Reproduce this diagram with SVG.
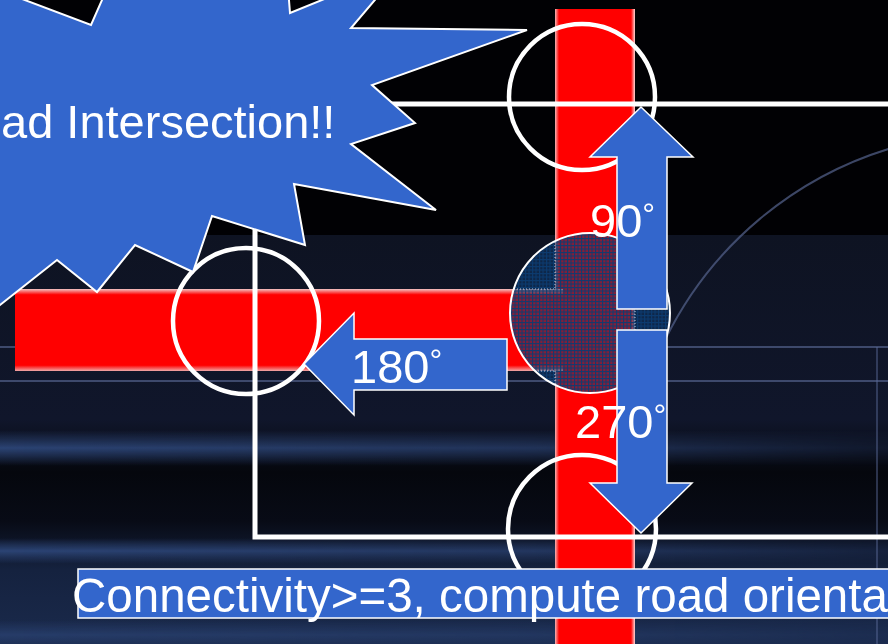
<svg xmlns="http://www.w3.org/2000/svg" width="888" height="644" viewBox="0 0 888 644">
  <defs>
    <linearGradient id="bgLow" x1="0" y1="235" x2="0" y2="644" gradientUnits="userSpaceOnUse">
      <stop offset="0" stop-color="#0e1322"/>
      <stop offset="0.45" stop-color="#10162b"/>
      <stop offset="0.58" stop-color="#05070d"/>
      <stop offset="0.7" stop-color="#080b16"/>
      <stop offset="0.82" stop-color="#15223f"/>
      <stop offset="1" stop-color="#1a2a4c"/>
    </linearGradient>
    <linearGradient id="band" x1="0" y1="0" x2="0" y2="1">
      <stop offset="0" stop-color="#2d4678" stop-opacity="0"/>
      <stop offset="0.5" stop-color="#2d4678" stop-opacity="0.95"/>
      <stop offset="1" stop-color="#2d4678" stop-opacity="0"/>
    </linearGradient>
    <linearGradient id="bandFade" x1="0" y1="0" x2="1" y2="0">
      <stop offset="0" stop-color="#fff" stop-opacity="1"/>
      <stop offset="0.6" stop-color="#fff" stop-opacity="0.7"/>
      <stop offset="1" stop-color="#fff" stop-opacity="0.2"/>
    </linearGradient>
    <mask id="fadeMask">
      <rect x="0" y="0" width="888" height="644" fill="url(#bandFade)"/>
    </mask>
    <linearGradient id="roadV" x1="0" y1="0" x2="1" y2="0">
      <stop offset="0" stop-color="#f6b4b4"/>
      <stop offset="0.05" stop-color="#ff0000"/>
      <stop offset="0.95" stop-color="#ff0000"/>
      <stop offset="1" stop-color="#ffd6d6"/>
    </linearGradient>
    <linearGradient id="roadH" x1="0" y1="0" x2="0" y2="1">
      <stop offset="0" stop-color="#f2c4c4"/>
      <stop offset="0.07" stop-color="#ff0000"/>
      <stop offset="0.93" stop-color="#ff0000"/>
      <stop offset="1" stop-color="#f0a8a8"/>
    </linearGradient>
    <pattern id="hatch" width="3.5" height="3.5" patternUnits="userSpaceOnUse">
      <rect width="3.5" height="3.5" fill="#0d3a6e" fill-opacity="0.5"/>
      <path d="M0 0.5H3.5M0.5 0V3.5" stroke="#0d3d72" stroke-width="1.2" stroke-opacity="0.95"/>
    </pattern>
    <clipPath id="interClip">
      <circle cx="590" cy="313" r="80"/>
    </clipPath>
  </defs>
  <style>
    .ring { fill: none; stroke: #ffffff; stroke-width: 4.5; }
    .arrow { fill: #3366cc; stroke: #ffffff; stroke-width: 1.5; stroke-linejoin: miter; }
    .lbl { font-family: "Liberation Sans", Arial, sans-serif; fill: #ffffff; }
    .deg { font-size: 32px; }
    .frame { fill: none; stroke: #ffffff; stroke-width: 5; }
  </style>

  <!-- background -->
  <g id="background">
    <rect x="0" y="0" width="888" height="644" fill="#010104"/>
    <rect x="0" y="235" width="888" height="409" fill="url(#bgLow)"/>
    <g mask="url(#fadeMask)">
      <rect x="0" y="430" width="888" height="36" fill="url(#band)"/>
      <rect x="0" y="538" width="888" height="26" fill="url(#band)"/>
      <rect x="0" y="620" width="888" height="30" fill="url(#band)" opacity="0.7"/>
    </g>
    <rect x="0" y="346" width="888" height="2" fill="#6474a4" opacity="0.55"/>
    <rect x="0" y="380" width="888" height="2" fill="#6474a4" opacity="0.55"/>
    <rect x="876" y="347" width="2" height="297" fill="#5a6a9a" opacity="0.45"/>
    <path d="M 665 340 A 370 370 0 0 1 895 147" fill="none" stroke="#56648e" stroke-width="2" opacity="0.7"/>
  </g>

  <g id="road-vertical">
    <rect x="555" y="9" width="80" height="640" fill="url(#roadV)"/>
  </g>
  <g id="road-horizontal">
    <rect x="15" y="289" width="548" height="82" fill="url(#roadH)"/>
  </g>

  <g id="frame">
    <path class="frame" d="M 895 104 H 255 V 537 H 895"/>
  </g>

  <g id="intersection">
    <circle cx="590" cy="313" r="80" fill="url(#hatch)"/>
    <g clip-path="url(#interClip)" fill="none" stroke="#b8c4d8" stroke-width="1.5" stroke-dasharray="1 2" opacity="0.7">
      <path d="M555 230V289M511 289H555M555 371V400M511 371H555M635 230V400"/>
    </g>
    <circle cx="590" cy="313" r="80" fill="none" stroke="#ffffff" stroke-width="2"/>
  </g>

  <g id="ring-top"><circle class="ring" cx="582" cy="97" r="73"/></g>
  <g id="ring-left"><circle class="ring" cx="246" cy="321" r="73"/></g>
  <g id="ring-bottom"><circle class="ring" cx="582" cy="529" r="74"/></g>

  <g id="arrow-90">
    <polygon class="arrow" points="617,309 617,157 590,157 641,107 693,157 667,157 667,309"/>
    <text class="lbl" x="590" y="237" font-size="47">90<tspan class="deg" dy="-12">°</tspan></text>
  </g>
  <g id="arrow-180">
    <polygon class="arrow" points="507,339 354,339 354,313 304,364 354,415 354,390 507,390"/>
    <text class="lbl" x="351" y="383" font-size="47">180<tspan class="deg" dy="-12">°</tspan></text>
  </g>
  <g id="arrow-270">
    <polygon class="arrow" points="617,330 667,330 667,483 692,483 641,533 590,483 617,483"/>
    <text class="lbl" x="575" y="438" font-size="47">270<tspan class="deg" dy="-12">°</tspan></text>
  </g>

  <g id="burst">
    <path d="M -60 -32 L 91 25 L 113 -25 L 287 -25 L 290 13 L 403 -33 L 351 28 L 527 30 L 372 85 L 415 123 L 351 144 L 436 210 L 294 184 L 305 245 L 212 216 L 193 272 L 135 245 L 97 292 L 57 260 L 0 305 L -40 335 Z" fill="#3366cc" stroke="#ffffff" stroke-width="2" stroke-linejoin="miter"/>
    <text class="lbl" x="1" y="138" font-size="47">ad Intersection!!</text>
  </g>

  <g id="caption">
    <rect x="78" y="569" width="830" height="49" fill="#3366cc" stroke="#ffffff" stroke-width="1.5"/>
    <text class="lbl" x="72" y="612" font-size="47.5">Connectivity&gt;=3, compute road orienta</text>
  </g>
</svg>
